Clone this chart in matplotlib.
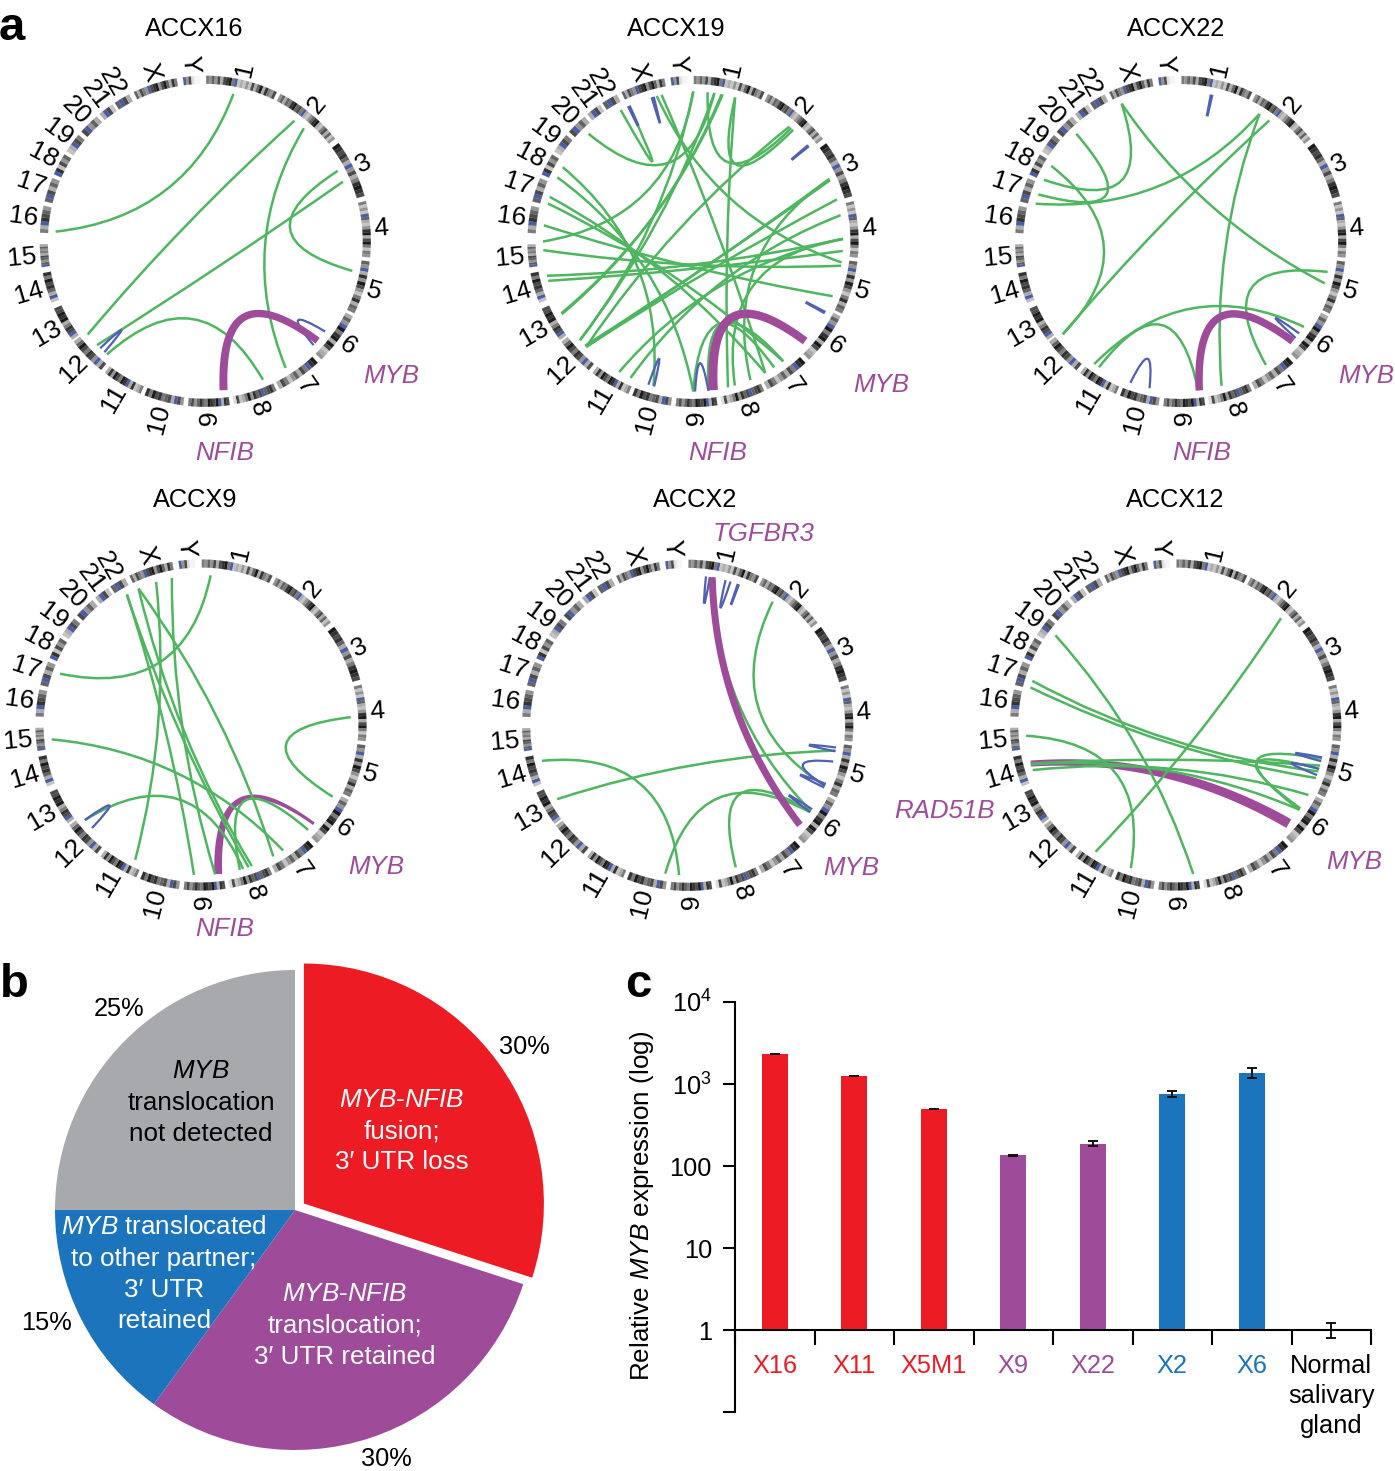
"""
Circos panels, pie and bar chart for MYB rearrangements
"""

import numpy as np
import matplotlib

matplotlib.use("Agg")
import matplotlib.pyplot as plt
from matplotlib.patches import PathPatch, Wedge
from matplotlib.path import Path

W, H = 1395, 1471

# chromosome ring: arcs in degrees clockwise from the top
chrom_names = ["1", "2", "3", "4", "5", "6", "7", "8", "9", "10", "11", "12", "13",
               "14", "15", "16", "17", "18", "19", "20", "21", "22", "X", "Y"]
chrom_start = [0.3, 27, 53.6, 75.9, 97, 116.9, 137.2, 154.5, 171.5, 187.7, 203, 219,
               233.5, 248.2, 261, 273, 284, 293.9, 303, 311.5, 320.3, 326.8, 334.4, 352.2]
chrom_end = [25.6, 51.7, 74.1, 95.6, 115.8, 135.5, 153.3, 170, 186, 201.5, 217.4, 232.7,
             246, 258.9, 269, 282.4, 292.5, 301.7, 310, 319, 325.8, 332.6, 350, 358]
# darkness of each band, 0 white to 9 black, b is the blue centromere
chrom_bands = ["5464737895b23242736938547", "4636589675b32468932573624", "987863b47358987",
               "5242b6324893795254", "64b384974258365", "364b9589397234",
               "98b573642573", "5876b7684953271", "783b97895686475", "47b376587958",
               "53283b89579483", "73b47857963", "3b785398977", "2b3687958", "b646735463",
               "53b8764", "6b7364", "b82746", "23b75", "7b463", "3b72", "6b73",
               "63754b7894796385", "b47100"]

# links as pairs of ring positions, degrees clockwise from the top
green_x16 = [(10.8, 273.7), (36.5, 231.6), (41.1, 147.6), (62, 101.4), (66.6, 226.2), (221, 157.4)]
blue_x16 = [(222.3, 224.5), (127, 133.8)]
purple_x16 = [(173, 131.5, 8, 7)]

green_x19 = [(0.1, 270), (0.1, 228.9), (11, 241), (11.4, 241.4), (8.2, 228.9),
             (5.6, 40.9), (16.3, 41.9), (16.3, 166.5), (8.2, 315.9), (40, 225.4),
             (65.4, 225.4), (65.9, 226), (73.7, 225.4), (79.9, 204.6), (89, 209.5),
             (93.6, 254.8), (98, 346), (99.3, 266.7), (111.4, 276.2), (65.4, 157.5),
             (89, 163.8), (179.9, 143), (174.1, 147.2), (151.2, 347.9), (299.7, 195.3),
             (295.3, 179.9), (287.3, 151.2), (284.7, 143), (256.8, 89), (331.2, 334.7)]
blue_x19 = [(50, 50.6), (118, 118.6), (334.3, 335), (344, 344.8), (195, 197.3), (174.1, 179.2)]
purple_x19 = [(172.2, 131.6, 9, 8)]

green_x22 = [(336.8, 106.2), (336.8, 294.3), (315.9, 288.3), (300.3, 231.8), (31.7, 284.6),
             (36.2, 231.8), (31.7, 164.2), (101.7, 145.4), (124.7, 215.2), (173.3, 213)]
blue_x22 = [(11.6, 12.2), (127.8, 130), (192, 199.6)]
purple_x22 = [(172.9, 131.7, 7.5, 7.5)]

green_x9 = [(3.7, 290), (348.8, 174.6), (342.6, 206), (335.4, 151.2), (335.4, 160.2),
            (330.4, 182.7), (330.4, 161.5), (264.5, 146.8), (87, 118.6), (230.7, 163.7),
            (134.4, 165)]
blue_x9 = [(226.6, 230.7)]
purple_x9 = [(173.4, 131.2, 8, 3)]

green_x2 = [(34.5, 113.8), (99.7, 240.5), (256.3, 183.3), (188.6, 125.4), (161.3, 125),
            (9.6, 124.8)]
blue_x2 = [(7, 8.5), (14.6, 16.6), (19.5, 20), (98.5, 100), (104, 113.7), (113, 114.5),
           (124, 125.3)]
purple_x2 = [(9.4, 131.6, 7, 7)]

green_x12 = [(44.6, 212.3), (306.7, 173.3), (287.1, 108), (284.5, 110.7), (265.9, 197.4),
             (255.1, 105.7), (252.5, 117.8), (254.8, 124.4), (124.4, 103), (123.8, 107)]
blue_x12 = [(102.5, 104), (107, 109.5)]
purple_x12 = [(255.1, 131.1, 6, 10)]

sample_names = ["ACCX16", "ACCX19", "ACCX22", "ACCX9", "ACCX2", "ACCX12"]
sample_green = [green_x16, green_x19, green_x22, green_x9, green_x2, green_x12]
sample_blue = [blue_x16, blue_x19, blue_x22, blue_x9, blue_x2, blue_x12]
sample_purple = [purple_x16, purple_x19, purple_x22, purple_x9, purple_x2, purple_x12]

pie_values = [30, 30, 15, 25]
pie_colors = ["#ED1C24", "#9E4C9A", "#1C75BC", "#A7A9AC"]

bar_labels = ["X16", "X11", "X5M1", "X9", "X22", "X2", "X6", "Normal\nsalivary\ngland"]
bar_values = [2320, 1250, 495, 136, 188, 755, 1360, 1]
bar_err_low = [30, 15, 6, 2, 15, 60, 190, 0.19]
bar_err_high = [30, 15, 6, 2, 15, 66, 220, 0.23]
bar_colors = ["#ED1C24", "#ED1C24", "#ED1C24", "#9E4C9A", "#9E4C9A", "#1C75BC", "#1C75BC", "#FFFFFF"]
label_colors = ["#ED1C24", "#ED1C24", "#ED1C24", "#9E4C9A", "#9E4C9A", "#1C75BC", "#1C75BC", "black"]

GREEN = "#4FB660"
BLUE = "#4F60B5"
PURPLE = "#9E4C9A"
CENTRO = "#4A5CA8"

plt.rcParams["font.family"] = "Liberation Sans"
plt.rcParams["mathtext.fontset"] = "custom"
plt.rcParams["mathtext.rm"] = "Liberation Sans"
plt.rcParams["mathtext.it"] = "Liberation Sans:italic"

fig = plt.figure(figsize=(W / 100, H / 100), dpi=100)


def px_text(x, y, s, size=18.3, **kwargs):
    kwargs.setdefault("ha", "center")
    kwargs.setdefault("va", "center")
    fig.text(x / W, 1 - (y + 2) / H, s, fontsize=size, **kwargs)


def ring_xy(a, r):
    t = np.radians(a)
    return np.array([r * np.sin(t), r * np.cos(t)])


def link_curve(a1, a2, ctrl):
    # quadratic bezier, control point pulled towards the centre
    p0 = ring_xy(a1, 150)
    p1 = ring_xy(a2, 150)
    mid = p0 + p1
    c = mid / (np.hypot(*mid) + 1e-9) * ctrl
    return p0, c, p1


def draw_link(ax, a1, a2, color, ctrl, lw, z):
    p0, c, p1 = link_curve(a1, a2, ctrl)
    path = Path([p0, c, p1], [Path.MOVETO, Path.CURVE3, Path.CURVE3])
    ax.add_patch(PathPatch(path, fc="none", ec=color, lw=lw, capstyle="butt", zorder=z))


def draw_ribbon(ax, a1, a2, w1, w2, z):
    # purple fusion link, width changes from one end to the other
    p0, c, p1 = link_curve(a1, a2, 30)
    t = np.linspace(0, 1, 80)[:, None]
    pts = (1 - t) ** 2 * p0 + 2 * t * (1 - t) * c + t ** 2 * p1
    d = np.gradient(pts, axis=0)
    n = np.column_stack([-d[:, 1], d[:, 0]]) / np.hypot(d[:, 0], d[:, 1])[:, None]
    half = (w1 + (w2 - w1) * t) / 2
    poly = np.vstack([pts + n * half, (pts - n * half)[::-1]])
    ax.fill(poly[:, 0], poly[:, 1], color=PURPLE, lw=0, zorder=z)


def draw_ring(ax):
    for name, a0, a1, bands in zip(chrom_names, chrom_start, chrom_end, chrom_bands):
        edges = np.linspace(a0, a1, len(bands) + 1)
        for k, b in enumerate(bands):
            col = CENTRO if b == "b" else str(0.96 - int(b) / 10.5)
            ax.add_patch(Wedge((0, 0), 165.5, 90 - edges[k + 1], 90 - edges[k], width=8,
                               fc=col, ec=col, lw=0.1))
        a = (a0 + a1) / 2
        x, y = ring_xy(a, 169)
        if a < 175:
            rot, ha = 90 - a, "left"
        else:
            rot, ha = 270 - a, "right"
        ax.text(x, y, name, fontsize=19, rotation=rot, rotation_mode="anchor",
                ha=ha, va="center")


centers = [(205.3, 241.3), (693, 241.5), (1180.7, 241.5), (201, 725), (687.7, 725.3), (1175.7, 725)]
purple_on_top = [True, True, True, False, True, False]

for i, name in enumerate(sample_names):
    cx, cy = centers[i]
    ax = fig.add_axes([(cx - 190) / W, 1 - (cy + 190) / H, 380 / W, 380 / H])
    ax.set_xlim(-190, 190)
    ax.set_ylim(-190, 190)
    ax.axis("off")
    draw_ring(ax)
    for a1, a2 in sample_green[i]:
        draw_link(ax, a1, a2, GREEN, 30, 1.8, 2)
    for a1, a2 in sample_blue[i]:
        draw_link(ax, a1, a2, BLUE, 94, 1.6, 2.5)
    for a1, a2, w1, w2 in sample_purple[i]:
        draw_ribbon(ax, a1, a2, w1, w2, 3 if purple_on_top[i] else 1)

title_pos = [(194, 27), (676, 27), (1176, 27), (195, 498), (695, 498), (1175, 498)]
for name, (x, y) in zip(sample_names, title_pos):
    px_text(x, y, name)

gene_labels = [("MYB", 391, 374), ("NFIB", 225, 451), ("MYB", 881, 383), ("NFIB", 718, 451),
               ("MYB", 1366, 374), ("NFIB", 1202, 451), ("MYB", 376, 865), ("NFIB", 225, 927),
               ("TGFBR3", 764, 532), ("MYB", 851, 866), ("RAD51B", 944, 809), ("MYB", 1354, 860)]
for s, x, y in gene_labels:
    px_text(x, y, s, size=18.6, color=PURPLE, style="italic")

px_text(12, 26, "a", size=34, weight="bold")
px_text(14, 983, "b", size=34, weight="bold")
px_text(638, 983, "c", size=34, weight="bold")

# panel b
ax_pie = fig.add_axes([35 / W, 1 - 1470 / H, 520 / W, 520 / H])
ax_pie.pie(pie_values, colors=pie_colors, startangle=90, counterclock=False, radius=240,
           explode=[11, 0, 0, 0], wedgeprops={"linewidth": 0})
ax_pie.set_xlim(-260, 260)
ax_pie.set_ylim(-260, 260)

for s, x, y, col in [
    (r"$\mathit{MYB\text{-}NFIB}$", 402, 1098, "white"),
    ("fusion;", 402, 1129, "white"),
    ("3\u2032 UTR loss", 402, 1160, "white"),
    (r"$\mathit{MYB}$", 201, 1069, "black"),
    ("translocation", 201, 1101, "black"),
    ("not detected", 201, 1132, "black"),
    (r"$\mathit{MYB}$ translocated", 164, 1225, "white"),
    ("to other partner;", 164, 1257, "white"),
    ("3\u2032 UTR", 164, 1288, "white"),
    ("retained", 164, 1319, "white"),
    (r"$\mathit{MYB\text{-}NFIB}$", 345, 1292, "white"),
    ("translocation;", 345, 1324, "white"),
    ("3\u2032 UTR retained", 345, 1355, "white"),
]:
    px_text(x, y, s, size=18.7, color=col)

for v, x, y in zip(pie_values, [524, 386, 47, 119], [1045, 1457, 1321, 1007]):
    px_text(x, y, f"{v}%")

# panel c
ax_bar = fig.add_axes([735 / W, 1 - 1412 / H, 636 / W, 410 / H])
ax_bar.set_yscale("log")
x_pos = np.arange(len(bar_values)) + 0.5
ax_bar.bar(x_pos, np.array(bar_values) - 1, width=0.327, bottom=1, color=bar_colors, lw=0)
ax_bar.errorbar(x_pos, bar_values, yerr=[bar_err_low, bar_err_high], fmt="none", ecolor="#111111",
                elinewidth=1.4, capsize=3.5, capthick=1.4, zorder=4)
ax_bar.set_xlim(0, 8)
ax_bar.set_ylim(0.1, 10000)
ax_bar.spines["top"].set_visible(False)
ax_bar.spines["right"].set_visible(False)
ax_bar.spines["bottom"].set_position(("data", 1))
ax_bar.spines["left"].set_linewidth(1.5)
ax_bar.spines["bottom"].set_linewidth(1.5)
ax_bar.set_yticks([0.1, 1, 10, 100, 1000, 10000],
                  ["", "1", "10", "100", r"$\mathregular{10^3}$", r"$\mathregular{10^4}$"])
ax_bar.yaxis.set_minor_locator(matplotlib.ticker.NullLocator())
ax_bar.tick_params(axis="y", length=8.6, width=1.5, pad=8, labelsize=18.3)
ax_bar.set_xticks(np.arange(9), [""] * 9)
ax_bar.tick_params(axis="x", which="major", length=10.8, width=1.5)
ax_bar.set_xticks(x_pos, bar_labels, minor=True)
ax_bar.tick_params(axis="x", which="minor", length=0, pad=17.5, labelsize=18.3)
for tick, col in zip(ax_bar.get_xticklabels(minor=True), label_colors):
    tick.set_color(col)
    tick.set_linespacing(1.31)

px_text(642, 1204, r"Relative $\mathit{MYB}$ expression (log)", size=18.7, rotation=90)

fig.savefig("out.png", dpi=100)
